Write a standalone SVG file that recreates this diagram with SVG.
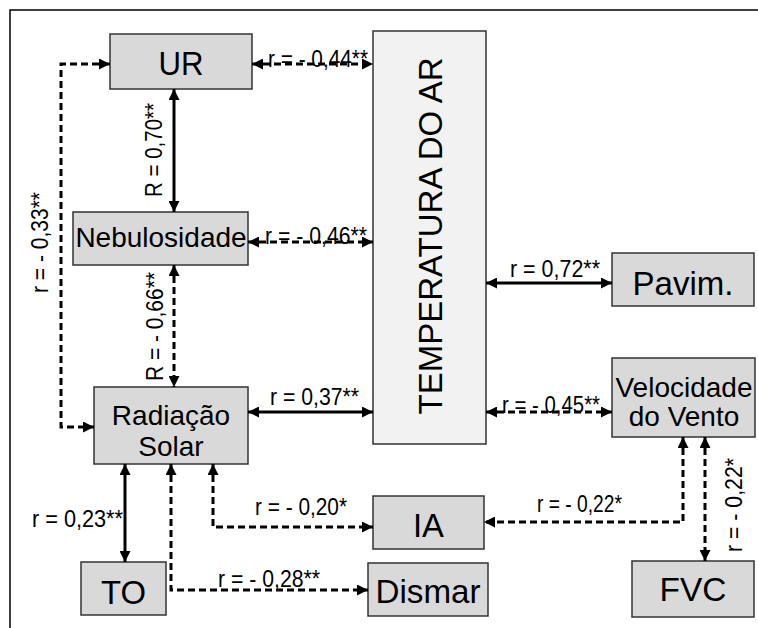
<svg xmlns="http://www.w3.org/2000/svg" width="758" height="628" viewBox="0 0 758 628">
<defs>
<marker id="ah" viewBox="0 0 10 10" refX="10" refY="5" markerWidth="11" markerHeight="11" markerUnits="userSpaceOnUse" orient="auto-start-reverse">
<path d="M0,0 L10,5 L0,10 Z" fill="#000"/>
</marker>
<style>
.node{fill:#d9d9d9;stroke:#333;stroke-width:1.5}
.temp{fill:#f2f2f2;stroke:#333;stroke-width:1.5}
.nt{font-family:"Liberation Sans",Arial,sans-serif;fill:#000;text-anchor:middle}
.big{font-size:34px}
.mid{font-size:28px}
.lbl{font-family:"Liberation Sans",Arial,sans-serif;font-size:23px;fill:#000}
.solid{fill:none;stroke:#000;stroke-width:3}
.dash{fill:none;stroke:#000;stroke-width:3;stroke-dasharray:7,4}
.frame{fill:none;stroke:#000;stroke-width:1.5}
</style>
</defs>
<rect width="758" height="628" fill="#fff"/>
<path class="frame" d="M10,628 L10,10 L758,10"/>

<g id="nodes">
<g id="UR"><rect class="node" x="110" y="34" width="142" height="55"/><text class="nt big" x="181" y="75" textLength="45" lengthAdjust="spacingAndGlyphs">UR</text></g>
<g id="Nebulosidade"><rect class="node" x="73" y="212" width="175" height="53"/><text class="nt mid" x="161" y="247">Nebulosidade</text></g>
<g id="Temperatura"><rect class="temp" x="373" y="31" width="113" height="413"/><text class="nt" style="font-size:33px" transform="translate(442,236) rotate(-90)">TEMPERATURA DO AR</text></g>
<g id="Pavim"><rect class="node" x="612" y="253" width="142" height="53"/><text class="nt big" x="683" y="295" textLength="101" lengthAdjust="spacingAndGlyphs">Pavim.</text></g>
<g id="Radiacao"><rect class="node" x="94" y="387" width="154" height="77"/><text class="nt mid" x="171" y="425">Radiação</text><text class="nt mid" x="171" y="456">Solar</text></g>
<g id="Velocidade"><rect class="node" x="612" y="358" width="143" height="79"/><text class="nt mid" x="684" y="397">Velocidade</text><text class="nt mid" x="684" y="426">do Vento</text></g>
<g id="TO"><rect class="node" x="81" y="562" width="85" height="53"/><text class="nt big" x="123.5" y="604" textLength="45" lengthAdjust="spacingAndGlyphs">TO</text></g>
<g id="IA"><rect class="node" x="373" y="496" width="111" height="53"/><text class="nt big" x="428.5" y="537" textLength="31" lengthAdjust="spacingAndGlyphs">IA</text></g>
<g id="Dismar"><rect class="node" x="368" y="563" width="120" height="53"/><text class="nt big" x="428" y="603" textLength="105" lengthAdjust="spacingAndGlyphs">Dismar</text></g>
<g id="FVC"><rect class="node" x="632" y="561" width="122" height="56"/><text class="nt big" x="693" y="601" textLength="67" lengthAdjust="spacingAndGlyphs">FVC</text></g>
</g>

<g id="connectors">
<path class="dash" d="M252,64 L373,64" marker-start="url(#ah)" marker-end="url(#ah)"/>
<path class="solid" d="M174,89 L174,212" marker-start="url(#ah)" marker-end="url(#ah)"/>
<path class="dash" d="M248,242 L373,242" marker-start="url(#ah)" marker-end="url(#ah)"/>
<path class="dash" d="M174,265 L174,387" marker-start="url(#ah)" marker-end="url(#ah)"/>
<path class="dash" d="M110,64 L61,64 L61,427 L94,427" marker-start="url(#ah)" marker-end="url(#ah)"/>
<path class="solid" d="M248,412 L373,412" marker-start="url(#ah)" marker-end="url(#ah)"/>
<path class="solid" d="M486,283 L612,283" marker-start="url(#ah)" marker-end="url(#ah)"/>
<path class="dash" d="M486,412 L612,412" marker-start="url(#ah)" marker-end="url(#ah)"/>
<path class="solid" d="M125,464 L125,562" marker-start="url(#ah)" marker-end="url(#ah)"/>
<path class="dash" d="M171,464 L171,590 L368,590" marker-start="url(#ah)" marker-end="url(#ah)"/>
<path class="dash" d="M213,464 L213,527 L373,527" marker-start="url(#ah)" marker-end="url(#ah)"/>
<path class="dash" d="M683,437 L683,522 L484,522" marker-start="url(#ah)" marker-end="url(#ah)"/>
<path class="dash" d="M705,437 L705,561" marker-start="url(#ah)" marker-end="url(#ah)"/>

<text class="lbl" x="268" y="67" textLength="100" lengthAdjust="spacingAndGlyphs">r = - 0,44**</text>
<text class="lbl" x="265" y="244" textLength="102" lengthAdjust="spacingAndGlyphs">r = - 0,46**</text>
<text class="lbl" transform="translate(162,197) rotate(-90)" textLength="94" lengthAdjust="spacingAndGlyphs">R = 0,70**</text>
<text class="lbl" transform="translate(48,293) rotate(-90)" textLength="101" lengthAdjust="spacingAndGlyphs">r = - 0,33**</text>
<text class="lbl" transform="translate(163,381) rotate(-90)" textLength="109" lengthAdjust="spacingAndGlyphs">R = - 0,66**</text>
<text class="lbl" x="270" y="405" textLength="89" lengthAdjust="spacingAndGlyphs">r = 0,37**</text>
<text class="lbl" x="510" y="277" textLength="90" lengthAdjust="spacingAndGlyphs">r = 0,72**</text>
<text class="lbl" x="502" y="413" textLength="98" lengthAdjust="spacingAndGlyphs">r = - 0,45**</text>
<text class="lbl" x="32" y="527" textLength="91" lengthAdjust="spacingAndGlyphs">r = 0,23**</text>
<text class="lbl" x="255" y="515" textLength="92" lengthAdjust="spacingAndGlyphs">r = - 0,20*</text>
<text class="lbl" x="218" y="587" textLength="102" lengthAdjust="spacingAndGlyphs">r = - 0,28**</text>
<text class="lbl" x="537" y="512" textLength="85" lengthAdjust="spacingAndGlyphs">r = - 0,22*</text>
<text class="lbl" transform="translate(742,552) rotate(-90)" textLength="94" lengthAdjust="spacingAndGlyphs">r = - 0,22*</text>
</g>
</svg>
